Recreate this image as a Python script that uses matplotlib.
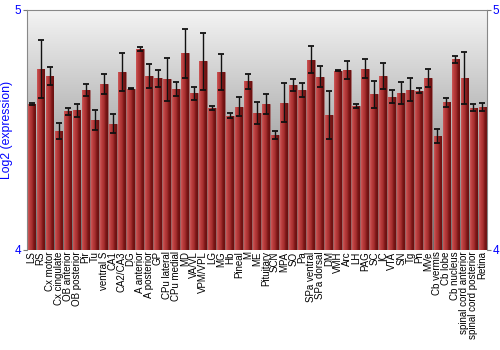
import matplotlib
matplotlib.use("Agg")
import matplotlib.pyplot as plt
import numpy as np
from matplotlib.colors import LinearSegmentedColormap

regions = [
    "LS", "RS", "Cx motor", "Cx cingulate", "OB anterior", "OB posterior",
    "Pir", "Tu", "ventral S", "CA1", "CA2/CA3", "DG", "A anterior",
    "A posterior", "GP", "CPu lateral", "CPu medial", "MD", "VA/VL",
    "VPM/VPL", "LG", "MG", "Hb", "Pineal", "M", "ME", "Pituitary", "SCN",
    "MPA", "SO", "Pa", "SPa ventral", "SPa dorsal", "DM", "VMH", "Arc", "LH",
    "PAG", "SC", "IC", "VTA", "SN", "Tg", "Pn", "MVe", "Cb vermis", "Cb lobe",
    "Cb nucleus", "spinal cord anterior", "spinal cord posterior", "Retina",
]
expression = [
    4.608, 4.754, 4.725, 4.496, 4.578, 4.582, 4.667, 4.542, 4.692, 4.526,
    4.740, 4.671, 4.838, 4.726, 4.715, 4.711, 4.669, 4.819, 4.653, 4.786,
    4.592, 4.742, 4.560, 4.597, 4.703, 4.571, 4.608, 4.480, 4.613, 4.688,
    4.667, 4.792, 4.722, 4.563, 4.746, 4.750, 4.600, 4.756, 4.649, 4.725,
    4.638, 4.654, 4.668, 4.664, 4.717, 4.475, 4.615, 4.794, 4.717, 4.593,
    4.596,
]
error = [
    0.003, 0.119, 0.037, 0.035, 0.015, 0.026, 0.025, 0.041, 0.042, 0.040,
    0.079, 0.002, 0.008, 0.050, 0.036, 0.090, 0.029, 0.103, 0.028, 0.118,
    0.010, 0.074, 0.012, 0.039, 0.032, 0.047, 0.040, 0.017, 0.081, 0.026,
    0.030, 0.056, 0.044, 0.100, 0.002, 0.039, 0.007, 0.040, 0.056, 0.056,
    0.027, 0.047, 0.047, 0.009, 0.036, 0.031, 0.018, 0.015, 0.107, 0.014,
    0.015,
]

blue = "#0000ff"
y_min, y_max = 4, 5

fig = plt.figure(figsize=(5, 3.5), dpi=100)
ax = fig.add_axes([27 / 500, 1 - 250 / 350, 460 / 500, 240 / 350])

x = np.arange(len(regions))
ax.set_xlim(-0.5, len(regions) - 0.5)
ax.set_ylim(y_min, y_max)

# grey background gradient
bg = LinearSegmentedColormap.from_list("bg", ["#6e6e6e", "#f4f4f4"])
ax.imshow(np.linspace(0, 1, 256).reshape(-1, 1), cmap=bg, aspect="auto",
          extent=[-0.5, len(regions) - 0.5, y_min, y_max], origin="lower",
          zorder=0)

# bars with horizontal shading
bar_cmap = LinearSegmentedColormap.from_list(
    "bar", ["#cc5a5a", "#b83c3c", "#a83030", "#7a1616", "#6a1010"])
heights = np.array(expression) - y_min
bars = ax.bar(x, heights, bottom=y_min, width=0.86, color="#b03535",
              edgecolor="#9a6a6a", linewidth=0.5, zorder=2)
grad = np.linspace(0, 1, 64).reshape(1, -1)
for b in bars:
    x0 = b.get_x()
    im = ax.imshow(grad, cmap=bar_cmap, aspect="auto", zorder=2.5,
                   extent=[x0, x0 + b.get_width(), y_min, y_min + b.get_height()])
    im.set_clip_path(b)

ax.errorbar(x, expression, yerr=error, fmt="none", ecolor="#111111",
            elinewidth=1, capsize=2, capthick=1.3, zorder=3)
ax.set_xlim(-0.5, len(regions) - 0.5)
ax.set_ylim(y_min, y_max)

ax.set_xticks(x)
ax.set_xticklabels(regions, rotation=90, fontsize=7, family="Liberation Sans")
ax.tick_params(axis="x", length=0, pad=1)
ax.set_yticks([4, 5])
ax.tick_params(axis="y", which="both", labelsize=8.5, labelcolor=blue,
               colors="#777777", length=3, left=True, right=True,
               labelleft=True, labelright=True, pad=1)
for t in ax.get_yticklabels():
    t.set_family("Liberation Sans")
    t.set_color(blue)
ax.set_ylabel("Log2 (expression)", color=blue, fontsize=8.8,
              family="Liberation Sans", labelpad=1)

for side in ["left", "top", "right"]:
    ax.spines[side].set_color("#888888")
ax.spines["bottom"].set_visible(False)

fig.savefig("out.png", dpi=100)
